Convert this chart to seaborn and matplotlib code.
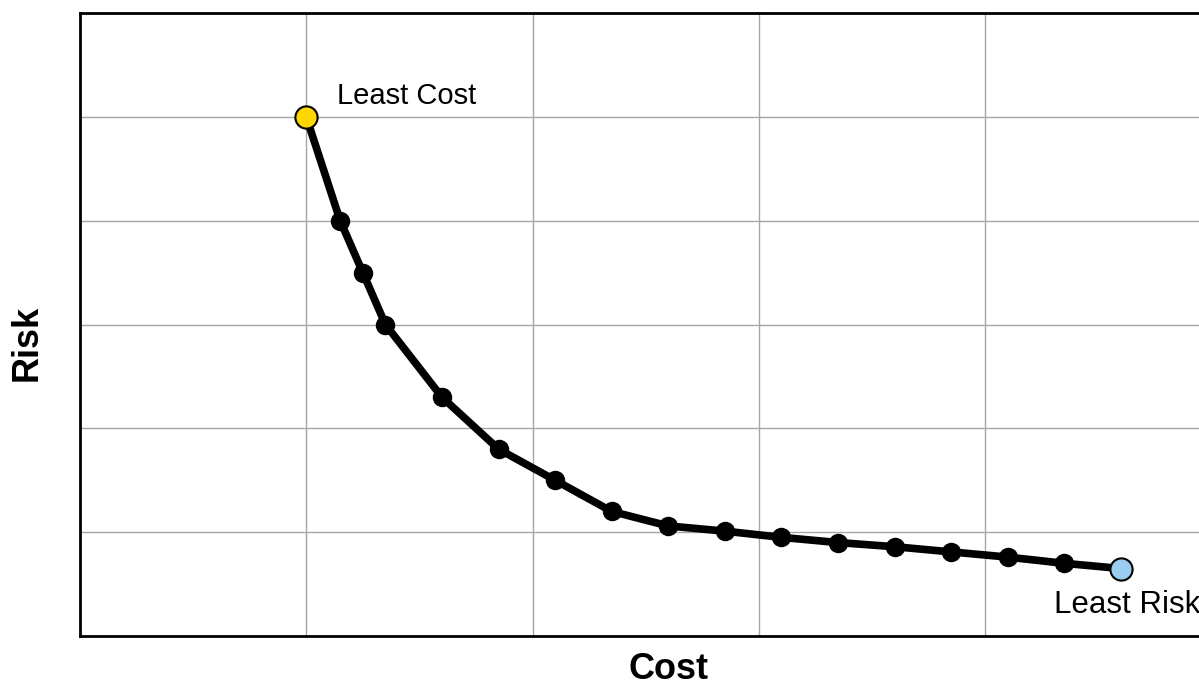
import numpy as np
import pandas as pd
import matplotlib
matplotlib.use("Agg")
import matplotlib.pyplot as plt
import seaborn as sns

# đường biên hiệu quả: chi phí vs rủi ro
cost = [1.0, 1.15, 1.25, 1.35, 1.6, 1.85, 2.1, 2.35, 2.6, 2.85, 3.1, 3.35, 3.6, 3.85, 4.1, 4.35, 4.6]
risk = [5.0, 4.0, 3.5, 3.0, 2.3, 1.8, 1.5, 1.2, 1.06, 1.01, 0.95, 0.9, 0.86, 0.81, 0.76, 0.7, 0.65]
labels = ["Least Cost", "Least Risk"]

df = pd.DataFrame({"Cost": cost, "Risk": risk})

sns.set_style("white")
plt.rcParams["font.family"] = ["Liberation Sans", "DejaVu Sans"]
plt.rcParams["text.color"] = "black"

fig = plt.figure(figsize=(11.99, 6.91), dpi=100)
# trục kéo dài quá mép phải của hình (bị cắt như bản gốc)
ax = fig.add_axes([80 / 1199, 55 / 691, 5.2 * 226.25 / 1199, 623 / 691])

sns.lineplot(data=df, x="Cost", y="Risk", ax=ax, color="black", linewidth=5.5,
             marker="o", markersize=14, markeredgewidth=0, sort=False)

# hai điểm đầu mút
ax.plot(cost[0], risk[0], "o", ms=16, mfc="#FFD700", mec="black", mew=1.5, zorder=5)
ax.plot(cost[-1], risk[-1], "o", ms=16, mfc="#99CCEE", mec="black", mew=1.5, zorder=5)

ax.annotate(labels[0], (cost[0], risk[0]), xytext=(22, 9), textcoords="offset points",
            fontsize=21, ha="left", va="baseline", color="black")
ax.annotate(labels[1], (cost[-1], risk[-1]), xytext=(-48, -32), textcoords="offset points",
            fontsize=22.5, ha="left", va="baseline", color="black")

ax.set_xlim(0, 5.2)
ax.set_ylim(0, 6)
ax.set_xticks([1, 2, 3, 4, 5])
ax.set_yticks([1, 2, 3, 4, 5])
ax.tick_params(length=0, labelbottom=False, labelleft=False)
ax.grid(True, color="#a6a6a6", linewidth=1)
ax.set_axisbelow(True)

for s in ax.spines.values():
    s.set_color("black")
    s.set_linewidth(2)

ax.set_xlabel("Cost", fontsize=26, fontweight="bold", color="black", va="center")
ax.set_ylabel("Risk", fontsize=26, fontweight="bold", color="black", va="center")
ax.xaxis.set_label_coords(0.5, -0.054)
ax.yaxis.set_label_coords(-0.0446, 0.47)

fig.savefig("out.png", dpi=100)
